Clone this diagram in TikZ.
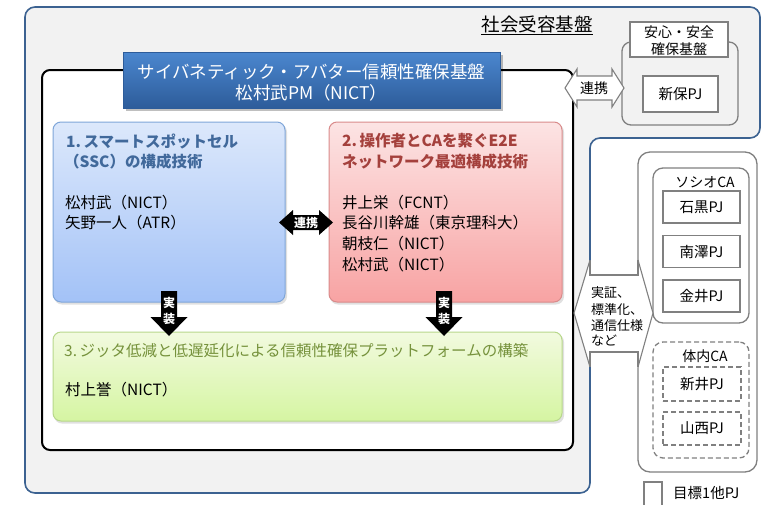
\documentclass[tikz,border=0pt]{standalone}
\usepackage{fontspec}
\setmainfont{Noto Sans CJK JP}
\definecolor{regionfill}{HTML}{F2F2F2}
\definecolor{regionline}{HTML}{3C6291}
\definecolor{boxgray}{HTML}{808080}
\definecolor{titletop}{HTML}{4B87CF}
\definecolor{titlebot}{HTML}{2D5C9A}
\definecolor{bluetop}{HTML}{DCE8FB}
\definecolor{bluebot}{HTML}{A3C2F7}
\definecolor{blueline}{HTML}{7FA6D9}
\definecolor{bluetext}{HTML}{41699B}
\definecolor{redtop}{HTML}{FCE4E4}
\definecolor{redbot}{HTML}{F8A3A3}
\definecolor{redline}{HTML}{D98B8B}
\definecolor{redtext}{HTML}{A4403C}
\definecolor{greentop}{HTML}{F2FADF}
\definecolor{greenbot}{HTML}{D5F5A2}
\definecolor{greenline}{HTML}{B8D88B}
\definecolor{greentext}{HTML}{76923C}
\begin{document}
\begin{tikzpicture}[x=1pt,y=-1pt,
  grayline/.style={draw=boxgray, line width=1.3pt},
  pjbox/.style={grayline, fill=white, minimum width=77pt, minimum height=32pt, inner sep=0pt, font=\fontsize{14.5}{17}\selectfont},
  dashpj/.style={pjbox, dashed, dash pattern=on 5pt off 3pt},
  bodytxt/.style={inner sep=0pt, anchor=west, font=\fontsize{15.5}{18}\selectfont},
  headtxt/.style={bodytxt, font=\fontsize{15.5}{18}\selectfont\bfseries},
  smalltxt/.style={inner sep=0pt, font=\fontsize{14}{17}\selectfont},
  arrowtxt/.style={inner sep=0pt, text=white, font=\fontsize{12}{14}\selectfont\bfseries},
  gradbox/.style={rounded corners=8pt, line width=1pt, inner sep=0pt},
  softshadow/.style={fill=black, opacity=0.12, rounded corners=8pt}
]
\useasboundingbox (0,0) rectangle (765,504);
% grey region
\fill[regionfill, rounded corners=10pt] (25,7) -- (760,7) -- (760,138) -- (590,138) -- (590,493) -- (25,493) -- cycle;
\node (ul) [inner sep=0pt, font=\fontsize{18.5}{20}\selectfont] at (537,24) {社会受容基盤};
\draw[line width=0.9pt] (ul.west |- 0,34.5) -- (ul.east |- 0,34.5);

% inner black frame
\node (frame) [draw=black, line width=2pt, rounded corners=8pt, fill=white, minimum width=531pt, minimum height=380pt] at (307.5,260) {};

% title
\fill[black, opacity=0.25] (126,55) rectangle (503,111);
\node (title) [draw=titlebot, line width=0.6pt, top color=titletop, bottom color=titlebot, minimum width=377pt, minimum height=56pt, inner sep=0pt] at (311.5,80) {};
\node (title1) [inner sep=0pt, text=white, font=\fontsize{17.5}{21}\selectfont] at (311.5,72) {サイバネティック・アバター信頼性確保基盤};
\node (title2) [inner sep=0pt, text=white, font=\fontsize{17.5}{21}\selectfont] at (311.5,93) {松村武PM（NICT）};

% shadows of the three boxes
\fill[softshadow] (54,124) rectangle (287,304.5);
\fill[softshadow] (330,124) rectangle (564,304.5);
\fill[softshadow] (54,334) rectangle (564,423.5);

% box 1
\node (b1) [gradbox, draw=blueline, top color=bluetop, bottom color=bluebot, minimum width=232pt, minimum height=180pt] at (169,212) {};
\node (b1t1) [headtxt, text=bluetext] at (66,142) {1.\,スマートスポットセル};
\node (b1t2) [headtxt, text=bluetext] at (64,162) {（SSC）の構成技術};
\node (b1n1) [bodytxt] at (65,203) {松村武（NICT）};
\node (b1n2) [bodytxt] at (65,223) {矢野一人（ATR）};

% box 2
\node (b2) [gradbox, draw=redline, top color=redtop, bottom color=redbot, minimum width=233pt, minimum height=180pt] at (445.5,212) {};
\node (b2t1) [headtxt, text=redtext] at (342,141) {2.\,操作者とCAを繋ぐE2E};
\node (b2t2) [headtxt, text=redtext] at (342,162) {ネットワーク最適構成技術};
\node (b2n1) [bodytxt] at (342,203) {井上栄（FCNT）};
\node (b2n2) [bodytxt] at (342,223) {長谷川幹雄（東京理科大）};
\node (b2n3) [bodytxt] at (342,244) {朝枝仁（NICT）};
\node (b2n4) [bodytxt] at (342,265) {松村武（NICT）};

% box 3
\node (b3) [gradbox, draw=greenline, top color=greentop, bottom color=greenbot, minimum width=509pt, minimum height=89pt] at (307.5,376.5) {};
\node (b3t) [bodytxt, text=greentext] at (64,351) {3.\,ジッタ低減と低遅延化による信頼性確保プラットフォームの構築};
\node (b3n) [bodytxt] at (65,390) {村上誉（NICT）};

% black double arrow between 1 and 2
\fill[black] (279,222.5) -- (293,210) -- (293,215) -- (319,215) -- (319,210) -- (333,222.5) -- (319,235) -- (319,230) -- (293,230) -- (293,235) -- cycle;
\node (rk1) [arrowtxt] at (306,222.5) {連携};

% down arrows
\fill[black] (161,291) -- (177,291) -- (177,317) -- (187.5,317) -- (169,336) -- (150.5,317) -- (161,317) -- cycle;
\node (j1a) [arrowtxt] at (169,303) {実};
\node (j1b) [arrowtxt] at (169,319) {装};
\fill[black] (436,291) -- (452,291) -- (452,317) -- (462.5,317) -- (444,336) -- (425.5,317) -- (436,317) -- cycle;
\node (j2a) [arrowtxt] at (444,303) {実};
\node (j2b) [arrowtxt] at (444,319) {装};

% safety group
\node (sg) [grayline, rounded corners=9pt, minimum width=116pt, minimum height=83pt] at (680,83.5) {};
\node (sgl) [grayline, fill=white, minimum width=98pt, minimum height=35pt, inner sep=0pt] at (679,39.5) {};
\node (sgl1) [smalltxt] at (679,32) {安心・安全};
\node (sgl2) [smalltxt] at (679,49) {確保基盤};
\node (shinbo) [pjbox, minimum width=75pt, minimum height=36pt] at (680.5,94) {新保PJ};

% white double arrow
\draw[grayline, fill=white, line width=1.1pt] (565,88) -- (577,69) -- (577,76) -- (612,76) -- (612,69) -- (624,88) -- (612,107) -- (612,100) -- (577,100) -- (577,107) -- cycle;
\node (rk2) [smalltxt] at (594,88) {連携};

% right group
\node (rg) [grayline, rounded corners=12pt, fill=white, minimum width=119pt, minimum height=320pt] at (697.5,312) {};
\node (socio) [grayline, rounded corners=10pt, minimum width=96pt, minimum height=155pt] at (701,245.5) {};
\node (sociol) [smalltxt] at (705,182) {ソシオCA};
\node (ishi) [pjbox] at (701.5,207) {石黒PJ};
\node (mina) [pjbox] at (701.5,251.5) {南澤PJ};
\node (kana) [pjbox] at (701.5,296) {金井PJ};
\node (tai) [grayline, dashed, dash pattern=on 5pt off 3pt, rounded corners=10pt, minimum width=96pt, minimum height=116pt] at (701,400) {};
\node (tail) [smalltxt] at (705,356) {体内CA};
\node (arai) [dashpj, minimum width=78pt, minimum height=34pt] at (702,384) {新井PJ};
\node (yama) [dashpj, minimum width=78pt, minimum height=33pt] at (702,428.5) {山西PJ};

% callout
\fill[white] (590,260) -- (638,260) -- (653,313) -- (638,367) -- (590,367) -- (574,313) -- cycle;
\draw[grayline, line width=1.1pt] (590,260) -- (574,313) -- (590,367);
\draw[grayline, line width=1.1pt] (638,260) -- (653,313) -- (638,367);
\draw[grayline, line width=1.1pt] (590,260) -- (590,275) -- (638,275) -- (638,260);
\draw[grayline, line width=1.1pt] (590,367) -- (590,352) -- (638,352) -- (638,367);
\node (c1) [inner sep=0pt, anchor=west, font=\fontsize{13}{15}\selectfont] at (591,293) {実証、};
\node (c2) [inner sep=0pt, anchor=west, font=\fontsize{13}{15}\selectfont] at (591,310) {標準化、};
\node (c3) [inner sep=0pt, anchor=west, font=\fontsize{13}{15}\selectfont] at (591,326) {通信仕様};
\node (c4) [inner sep=0pt, anchor=west, font=\fontsize{13}{15}\selectfont] at (591,341) {など};

% region border
\draw[draw=regionline, line width=1.6pt, rounded corners=10pt] (590,367) -- (590,493) -- (25,493) -- (25,7) -- (760,7) -- (760,138) -- (590,138) -- (590,260);

% legend
\node (leg) [grayline, fill=white, minimum width=18pt, minimum height=24pt, inner sep=0pt] at (653,494) {};
\node (legt) [inner sep=0pt, anchor=west, font=\fontsize{14.5}{17}\selectfont] at (673,493) {目標1他PJ};
\end{tikzpicture}
\end{document}
